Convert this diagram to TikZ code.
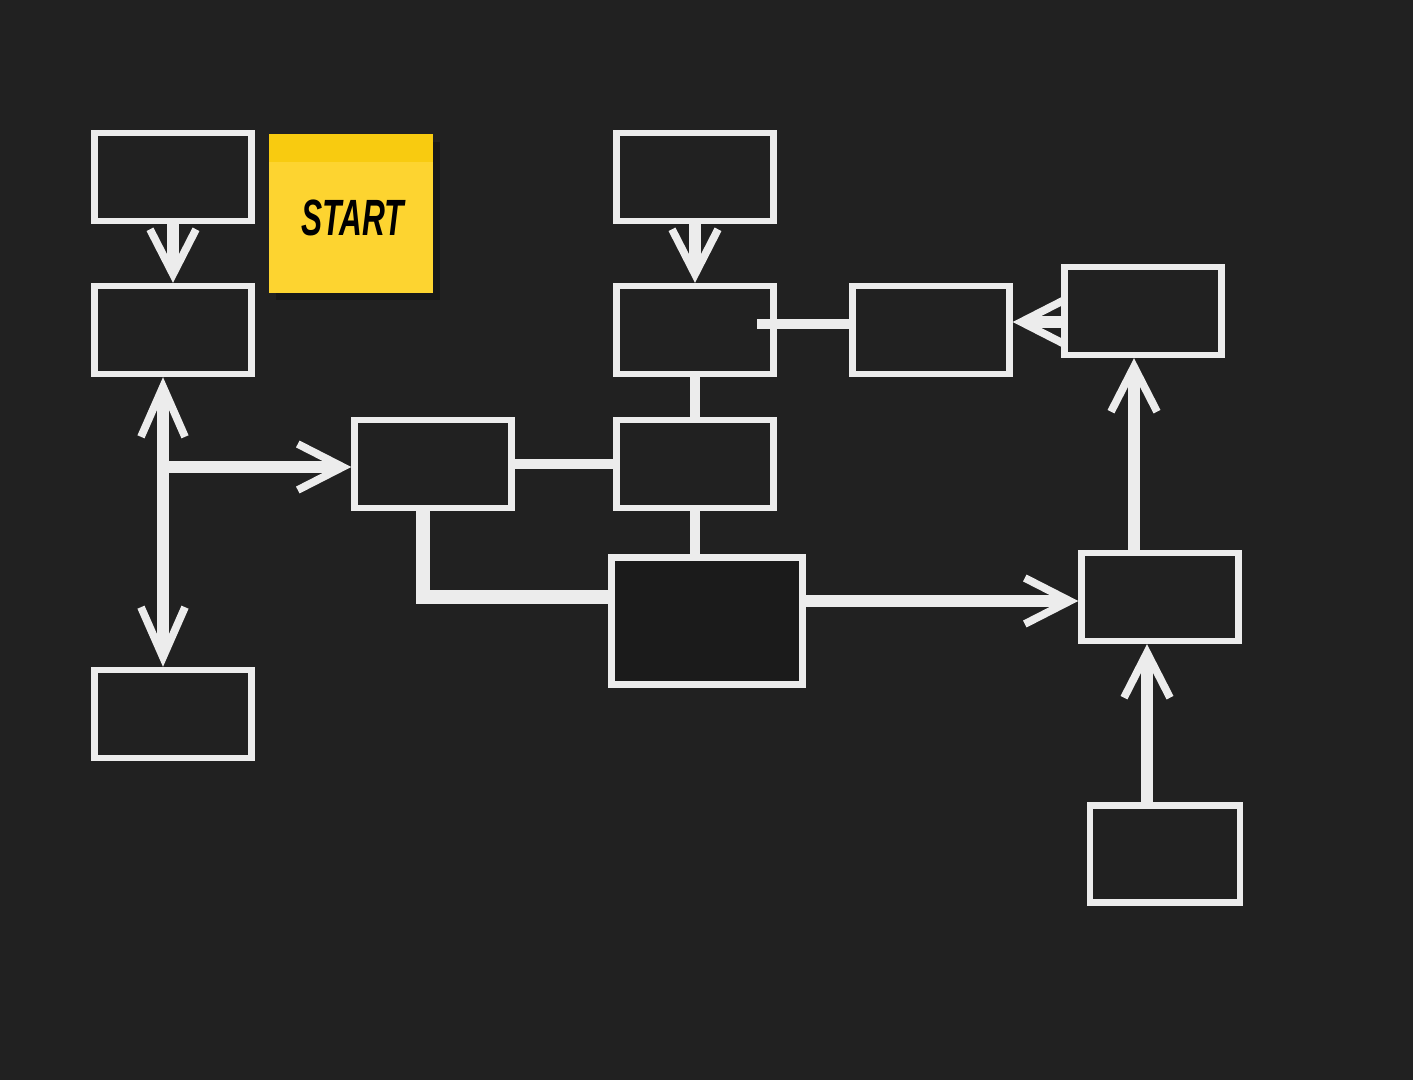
\documentclass[tikz,border=0pt]{standalone}
\usepackage{fontspec}
\setsansfont{Liberation Sans}
\usetikzlibrary{arrows.meta,shadows,calc}
\definecolor{bg}{HTML}{212121}
\definecolor{chalk}{HTML}{ECECEC}
\definecolor{noteY}{HTML}{FDD430}
\definecolor{noteBand}{HTML}{F8CB10}
\definecolor{darkfill}{HTML}{1B1B1B}
\begin{document}
\begin{tikzpicture}[x=0.01cm,y=-0.01cm,
  box/.style={draw=chalk,line width=1.8pt,fill=bg,minimum width=1.57cm,minimum height=0.88cm,inner sep=0pt},
  bigbox/.style={box,minimum width=1.91cm,minimum height=1.27cm,fill=darkfill},
  wire/.style={draw=chalk,line width=2.6pt},
  thick wire/.style={draw=chalk,line width=3.8pt},
  chalkarrow/.style={draw=chalk,line width=3.6pt,-{Straight Barb[length=0.45cm,width=0.46cm,line width=2.2pt]}},
  chalkboth/.style={draw=chalk,line width=3.6pt,{Straight Barb[length=0.5cm,width=0.44cm,line width=2.2pt]}-{Straight Barb[length=0.5cm,width=0.44cm,line width=2.2pt]}},
  sticky/.style={fill=noteY,minimum width=1.63cm,minimum height=1.58cm,inner sep=0pt,
    drop shadow={shadow xshift=2pt,shadow yshift=-2pt,opacity=0.25,fill=black}},
  stickytext/.style={font=\sffamily\bfseries\itshape\fontsize{10}{10}\selectfont,text=black}
]
\fill[bg] (0,0) rectangle (1413,1080);
\useasboundingbox (0,0) rectangle (1413,1080);

% boxes
\node[box] (A) at (173,177) {};
\node[box] (B) at (173,330) {};
\node[box] (C) at (173,714) {};
\node[box] (D) at (433,464) {};
\node[box] (E) at (695,177) {};
\node[box] (F) at (695,330) {};
\node[box] (G) at (695,464) {};
\node[bigbox] (H) at (707,621) {};
\node[box] (I) at (931,330) {};
\node[box] (J) at (1143,311) {};
\node[box] (K) at (1160,597) {};
\node[box,minimum width=1.5cm,minimum height=0.97cm] (L) at (1165,854) {};

% sticky note
\node[sticky] (S) at (351,214) {};
\fill[noteBand] (S.north west) rectangle ($(S.north east)+(0,28)$);
\node[stickytext] (St) at (353,218) {\scalebox{0.9}[1.45]{START}};

% connectors
\draw[chalkarrow] (A.south) -- (B.north);
\draw[chalkarrow] (E.south) -- (F.north);
\draw[chalkboth] (B.south -| 163,0) -- (C.north -| 163,0);
\coordinate (branch) at (163,467);
\draw[chalkarrow] (branch) -- (D.west |- branch);
\draw[wire] (D.east) -- (G.west);
\draw[wire] (F.south) -- (G.north);
\draw[wire] (G.south) -- (H.north -| G.south);
\coordinate (elbow) at (423,597);
\draw[thick wire] (D.south -| elbow) -- (elbow) -- (H.west |- elbow);
\coordinate (fi) at (757,324);
\draw[wire] (fi) -- (I.west |- fi);
\draw[chalkarrow] (J.west |- 0,322) -- (I.east |- 0,322);
\draw[chalkarrow] (H.east |- 0,601) -- (K.west |- 0,601);
\draw[chalkarrow] (K.north -| 1134,0) -- (J.south -| 1134,0);
\draw[chalkarrow] (L.north -| 1147,0) -- (K.south -| 1147,0);
\end{tikzpicture}
\end{document}
